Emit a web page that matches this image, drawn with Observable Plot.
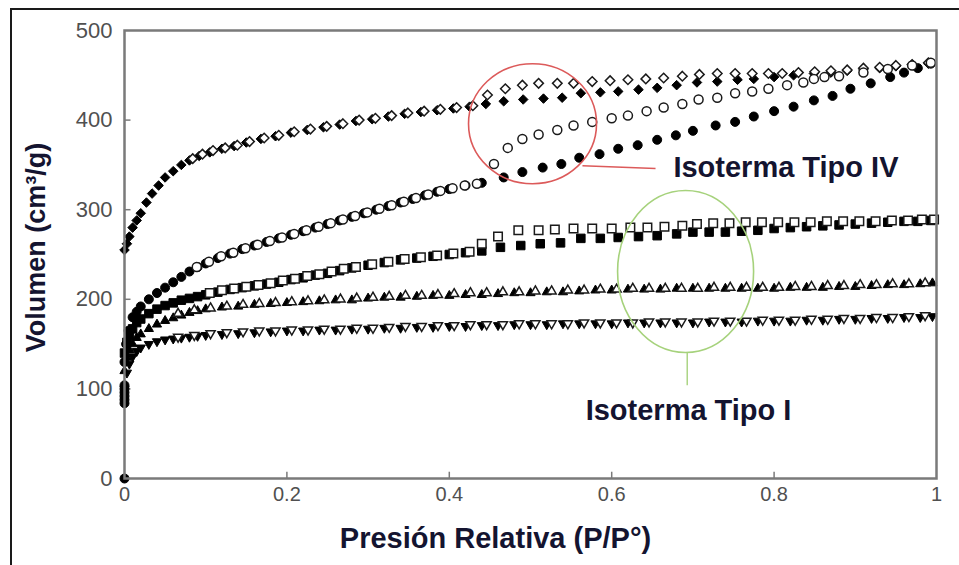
<!DOCTYPE html>
<html><head><meta charset="utf-8">
<script src="https://cdn.jsdelivr.net/npm/d3@7"></script>
<script src="https://cdn.jsdelivr.net/npm/@observablehq/plot@0.6"></script>
<style>
html,body{margin:0;padding:0;background:#fff;}
#wrap{position:relative;width:959px;height:565px;overflow:hidden;background:#fff;}
#border{position:absolute;left:10px;top:8px;width:1000px;height:600px;border-left:2px solid #1a1a1a;border-top:2px solid #1a1a1a;}
#chart{position:absolute;left:0;top:0;}
</style></head><body>
<div id="wrap"><div id="border"></div><div id="chart"></div></div>
<script>
// ---- Data ----
const xTitle = "Presión Relativa (P/P°)";
const yTitle = "Volumen (cm³/g)";
const xTicks = [0, 0.2, 0.4, 0.6, 0.8, 1];
const xTickLabels = ["0", "0.2", "0.4", "0.6", "0.8", "1"];
const yTicks = [0, 100, 200, 300, 400, 500];
const xInnerTicks = [0.2, 0.4, 0.6, 0.8];
const yInnerTicks = [100, 200, 300, 400];

// Series A (diamonds, upper isotherm)
const aAdsX = [0,0.003,0.006,0.01,0.015,0.02,0.027,0.034,0.042,0.05,0.06,0.07,0.08,0.092,0.105,0.12,0.135,0.15,0.168,0.186,0.205,0.225,0.245,0.265,0.285,0.305,0.325,0.345,0.365,0.385,0.405,0.425,0.445,0.467,0.491,0.516,0.539,0.562,0.586,0.608,0.633,0.656,0.68,0.705,0.73,0.755,0.775,0.8,0.824,0.849,0.87,0.89,0.91,0.93,0.95,0.97,0.99];
const aAdsY = [255,262,270,280,288,296,308,318,327,336,343,350,355,360,364,368,371,375,379,382,386,389,392,395,399,401,404,407,409,411,413,415,418,421,423,424,425,430,431,432,434,436,439,442,443,445,446,448,450,452,453,455,456,458,460,462,463];
const aDesX = [0.99,0.97,0.95,0.93,0.91,0.89,0.87,0.85,0.83,0.81,0.793,0.773,0.752,0.73,0.708,0.687,0.664,0.642,0.62,0.598,0.576,0.553,0.533,0.51,0.49,0.469,0.447,0.429,0.409,0.389,0.369,0.349,0.329,0.309,0.289,0.269,0.249,0.229,0.209,0.19,0.172,0.154,0.139,0.124,0.109,0.096,0.084];
const aDesY = [464,462,461,459,458,456,455,454,453,452,452,452,452,452,451,449,447,446,445,444,443,441,441,441,439,435,428,416,414,412,410,408,405,402,400,396,393,390,387,383,380,376,372,369,366,362,357];

// Series B (circles, Type IV with hysteresis)
const bAdsX = [0,0.002,0.005,0.01,0.015,0.02,0.03,0.04,0.05,0.06,0.07,0.08,0.09,0.1,0.115,0.13,0.145,0.16,0.175,0.19,0.205,0.22,0.235,0.25,0.265,0.28,0.295,0.31,0.325,0.34,0.355,0.37,0.385,0.4,0.42,0.44,0.467,0.49,0.515,0.538,0.56,0.585,0.608,0.632,0.656,0.679,0.70,0.728,0.752,0.775,0.80,0.824,0.849,0.872,0.894,0.919,0.943,0.96,0.977,0.993];
const bAdsY = [130,150,165,180,186,192,200,207,213,219,225,231,236,240,246,251,256,260,264,268,272,276,280,284,288,292,296,300,304,308,312,316,320,323,327,330,336,342,347,351,358,362,368,372,378,383,388,394,398,404,410,415,422,427,435,441,448,453,458,463];
const bDesX = [0.993,0.97,0.94,0.91,0.88,0.862,0.849,0.836,0.816,0.793,0.773,0.752,0.73,0.707,0.687,0.664,0.643,0.62,0.6,0.576,0.553,0.533,0.51,0.49,0.472,0.455,0.434,0.419,0.404,0.389,0.374,0.359,0.344,0.329,0.314,0.299,0.284,0.269,0.254,0.239,0.224,0.209,0.194,0.179,0.164,0.149,0.134,0.119,0.104,0.089];
const bDesY = [464,461,457,453,449,448,446,442,439,435,432,430,425,423,418,414,410,405,402,398,394,389,384,379,369,351,329,327,324,321,317,313,309,305,301,297,293,289,285,281,277,273,269,265,261,257,252,248,242,236];

// Series C (squares, Type I)
const cAdsX = [0,0.003,0.006,0.01,0.015,0.02,0.03,0.04,0.05,0.06,0.07,0.08,0.09,0.1,0.115,0.13,0.145,0.16,0.175,0.19,0.205,0.22,0.235,0.25,0.265,0.28,0.3,0.32,0.34,0.36,0.38,0.4,0.42,0.44,0.463,0.488,0.512,0.537,0.562,0.586,0.608,0.633,0.656,0.68,0.70,0.72,0.74,0.76,0.78,0.80,0.82,0.84,0.86,0.88,0.90,0.92,0.94,0.96,0.977,0.993];
const cAdsY = [140,152,160,167,174,178,184,189,193,196,199,201,203,205,208,211,213,215,217,219,222,224,227,229,232,235,238,241,244,246,248,250,252,254,258,260,262,263,268,268,269,270,271,273,275,275,275,276,277,279,280,281,282,283,284,285,286,287,287,288];
const cDesX = [0.997,0.982,0.965,0.945,0.925,0.905,0.885,0.865,0.845,0.825,0.805,0.785,0.765,0.745,0.725,0.705,0.687,0.665,0.644,0.623,0.60,0.576,0.553,0.53,0.51,0.485,0.46,0.44,0.425,0.405,0.385,0.365,0.345,0.325,0.305,0.285,0.27,0.255,0.24,0.225,0.21,0.195,0.18,0.165,0.15,0.135,0.12,0.105];
const cDesY = [289,289,288,288,287,287,287,287,286,286,286,286,286,285,285,284,282,281,280,280,279,279,279,278,277,277,270,262,253,251,249,247,245,242,239,236,234,231,228,226,223,221,218,216,214,212,210,207];

// Series D (triangles up, Type I)
const dAdsX = [0,0.003,0.006,0.01,0.015,0.02,0.03,0.04,0.05,0.06,0.07,0.08,0.09,0.1,0.12,0.14,0.16,0.18,0.2,0.22,0.24,0.26,0.28,0.3,0.32,0.34,0.36,0.38,0.4,0.42,0.44,0.46,0.48,0.5,0.52,0.54,0.56,0.58,0.6,0.62,0.64,0.66,0.68,0.7,0.72,0.74,0.76,0.78,0.8,0.82,0.84,0.86,0.88,0.9,0.92,0.94,0.96,0.98,0.995];
const dAdsY = [120,135,143,150,157,161,167,172,176,179,182,185,187,189,191,192,194,195,196,197,198,199,199,201,202,202,203,204,204,205,205,206,207,207,208,208,209,210,210,211,211,211,212,212,212,212,212,212,212,213,213,213,214,214,215,216,216,217,218];
const dDesX = [0.986,0.966,0.946,0.926,0.906,0.886,0.866,0.846,0.826,0.806,0.786,0.766,0.746,0.726,0.706,0.686,0.666,0.646,0.626,0.606,0.586,0.566,0.546,0.526,0.506,0.486,0.466,0.446,0.426,0.406,0.386,0.366,0.346,0.326,0.306,0.286,0.266,0.246,0.226,0.206,0.186,0.166,0.146,0.126,0.106,0.086,0.066];
const dDesY = [218,217,217,216,216,215,215,214,214,213,213,213,213,213,212,212,212,212,212,211,211,210,210,209,209,208,208,207,207,206,205,204,204,203,202,201,200,199,198,197,196,195,194,192,190,188,184];

// Series E (triangles down, Type I)
const eAdsX = [0,0.003,0.006,0.01,0.015,0.02,0.03,0.04,0.05,0.06,0.07,0.08,0.09,0.1,0.12,0.14,0.16,0.18,0.2,0.22,0.24,0.26,0.28,0.3,0.32,0.34,0.36,0.38,0.4,0.42,0.44,0.46,0.48,0.5,0.52,0.54,0.56,0.58,0.6,0.62,0.64,0.66,0.68,0.7,0.72,0.74,0.76,0.78,0.8,0.82,0.84,0.86,0.88,0.9,0.92,0.94,0.96,0.98,0.995];
const eAdsY = [100,118,128,136,142,146,150,153,155,156,157,158,159,160,161,162,163,164,165,165,166,166,167,167,168,168,169,169,170,170,171,171,172,172,172,173,173,173,173,174,174,174,174,174,175,175,175,176,176,176,177,177,178,178,179,179,180,180,181];
const eDesX = [0.986,0.966,0.946,0.926,0.906,0.886,0.866,0.846,0.826,0.806,0.786,0.766,0.746,0.726,0.706,0.686,0.666,0.646,0.626,0.606,0.586,0.566,0.546,0.526,0.506,0.486,0.466,0.446,0.426,0.406,0.386,0.366,0.346,0.326,0.306,0.286,0.266,0.246,0.226,0.206,0.186,0.166,0.146,0.126,0.106,0.086,0.066];
const eDesY = [182,181,180,180,179,179,178,178,177,177,177,176,176,176,175,175,175,175,174,174,174,174,173,173,173,173,172,172,172,171,171,170,170,169,168,168,167,167,166,166,165,165,164,163,162,160,158];

// Points piled up at P/P° = 0
const zeroX = [0,0,0,0,0,0,0];
const zeroY = [0,84,88,92,96,100,104];

// Annotations
const annLabels = ["Isoterma Tipo IV", "Isoterma Tipo I"];
const annLabelX = [0.676, 0.6946];
const annLabelY = [347, 76];
const annColors = ["#dc5a5a", "#a6d27c"];
const annCircleX = [0.5025, 0.691];
const annCircleY = [396, 231];
const annLineX1 = [0.564, 0.693];
const annLineY1 = [349, 141];
const annLineX2 = [0.654, 0.693];
const annLineY2 = [346, 104];

// ---- helpers ----
const pts = (xs, ys) => xs.map((x, i) => ({x, y: ys[i]}));
const triDown = {
  draw(ctx, size) {
    const y = -Math.sqrt(size / (Math.sqrt(3) * 3));
    ctx.moveTo(0, -y * 2);
    ctx.lineTo(-Math.sqrt(3) * y, y);
    ctx.lineTo(Math.sqrt(3) * y, y);
    ctx.closePath();
  }
};
function ellipseSymbol(ax, ay) {
  return {
    draw(ctx, size) {
      const r = Math.sqrt(size / Math.PI), rx = r * ax, ry = r * ay, k = 0.5522847;
      ctx.moveTo(rx, 0);
      ctx.bezierCurveTo(rx, ry * k, rx * k, ry, 0, ry);
      ctx.bezierCurveTo(-rx * k, ry, -rx, ry * k, -rx, 0);
      ctx.bezierCurveTo(-rx, -ry * k, -rx * k, -ry, 0, -ry);
      ctx.bezierCurveTo(rx * k, -ry, rx, -ry * k, rx, 0);
      ctx.closePath();
    }
  };
}
const filled = (data, symbol, r) => Plot.dot(data, {x: "x", y: "y", symbol, r, fill: "#000", stroke: "#000", strokeWidth: 1});
const open = (data, symbol, r) => Plot.dot(data, {x: "x", y: "y", symbol, r, fill: "#fff", stroke: "#1a1a1a", strokeWidth: 1.5});

const ann = annLabels.map((t, i) => ({
  t, lx: annLabelX[i], ly: annLabelY[i], color: annColors[i],
  cx: annCircleX[i], cy: annCircleY[i],
  x1: annLineX1[i], y1: annLineY1[i], x2: annLineX2[i], y2: annLineY2[i]
}));
const labelStyle = {x: "lx", y: "ly", text: "t", fontSize: 29, fontWeight: "bold", fill: "#141430"};

const chart = Plot.plot({
  width: 959, height: 565,
  marginLeft: 124, marginRight: 23, marginTop: 30, marginBottom: 87,
  x: {domain: [0, 1]},
  y: {domain: [0, 500]},
  style: {fontFamily: "'Liberation Sans', Arial, sans-serif", background: "transparent", overflow: "visible"},
  marks: [
    Plot.ruleX(xInnerTicks, {y1: 0, y2: 7, stroke: "#7a7a7a", strokeWidth: 1.5}),
    Plot.ruleY(yInnerTicks, {x1: 0, x2: 0.008, stroke: "#7a7a7a", strokeWidth: 1.5}),
    Plot.axisX(xTicks, {tickSize: 0, tickPadding: 8, fontSize: 20, color: "#505050", label: null,
      tickFormat: (d) => xTickLabels[xTicks.indexOf(d)]}),
    Plot.axisY(yTicks, {tickSize: 0, tickPadding: 12, fontSize: 22, color: "#505050", label: null}),
    // series: adsorption (filled) then desorption (open)
    filled(pts(aAdsX, aAdsY), "diamond2", 4.3),
    filled(pts(bAdsX, bAdsY), "circle", 4.5),
    filled(pts(cAdsX, cAdsY), "square", 4.8),
    filled(pts(dAdsX, dAdsY), "triangle", 3.4),
    filled(pts(eAdsX, eAdsY), triDown, 3.4),
    open(pts(aDesX, aDesY), "diamond2", 4.3),
    open(pts(bDesX, bDesY), "circle", 4.5),
    open(pts(cDesX, cDesY), "square", 4.8),
    open(pts(dDesX, dDesY), "triangle", 3.4),
    open(pts(eDesX, eDesY), triDown, 3.4),
    filled(pts(zeroX, zeroY), "circle", 4.5),
    Plot.frame({stroke: "#7a7a7a", strokeWidth: 2.5}),
    // annotations
    Plot.dot([ann[0]], {x: "cx", y: "cy", r: 62, symbol: ellipseSymbol(64 / 62, 60 / 62), fill: "none", stroke: "#dc5a5a", strokeWidth: 1.6}),
    Plot.dot([ann[1]], {x: "cx", y: "cy", r: 62, symbol: ellipseSymbol(68 / 62, 81 / 62), fill: "none", stroke: "#a6d27c", strokeWidth: 1.6}),
    Plot.link(ann, {x1: "x1", y1: "y1", x2: "x2", y2: "y2", stroke: "color", strokeWidth: 1.4}),
    Plot.text([ann[0]], {...labelStyle, textAnchor: "start"}),
    Plot.text([ann[1]], {...labelStyle, textAnchor: "middle"}),
    // axis titles
    Plot.text([xTitle], {text: d => d, frameAnchor: "bottom", textAnchor: "middle", lineAnchor: "middle", dx: -35, dy: 60, fontSize: 29, fontWeight: "bold", fill: "#141430"}),
    Plot.text([yTitle], {text: d => d, frameAnchor: "left", textAnchor: "middle", lineAnchor: "middle", rotate: -90, dx: -88, dy: -7, fontSize: 27, fontWeight: "bold", fill: "#141430"})
  ]
});
document.getElementById("chart").appendChild(chart);
</script>
</body></html>
